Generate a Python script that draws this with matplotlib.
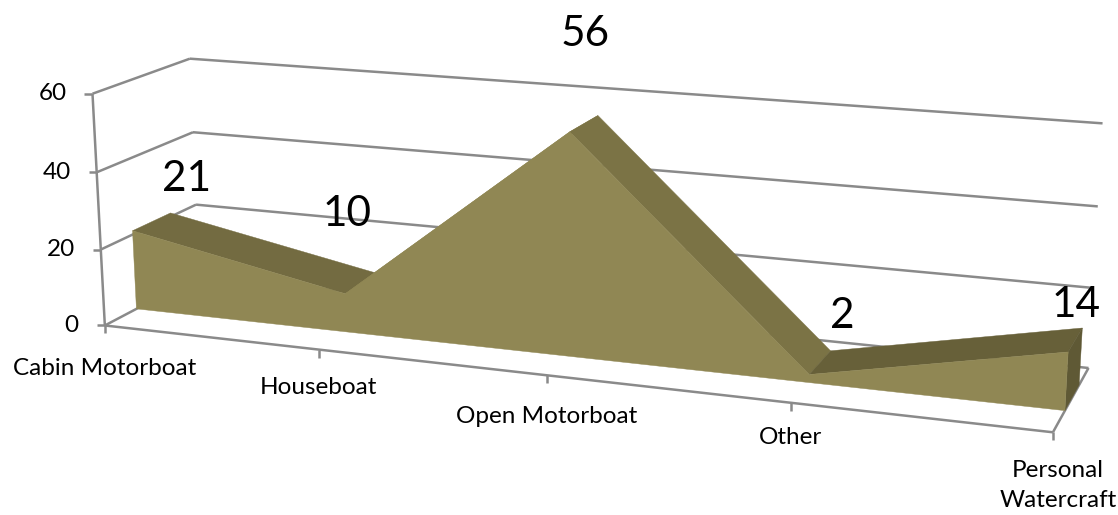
import numpy as np
import matplotlib
matplotlib.use('Agg')
import matplotlib.pyplot as plt

categories = ['Cabin Motorboat', 'Houseboat', 'Open Motorboat', 'Other', 'Personal\nWatercraft']
values = [21, 10, 56, 2, 14]
y_ticks = [0, 20, 40, 60]

# depth of the area inside the floor (0 = front edge, 1 = back wall)
z_front = 0.32
z_back = 0.72

# frame corners on the picture, used only to work out the camera of the 3D chart
# category index, value, depth -> pixel
frame = [
    (0, 60, 0, 93, 93), (0, 40, 0, 97, 170), (0, 20, 0, 102, 246), (0, 0, 0, 105, 322),
    (0, 60, 1, 189, 61), (0, 40, 1, 192, 133), (0, 20, 1, 196, 204), (0, 0, 1, 200, 275),
    (4, 60, 1, 1103, 124), (4, 40, 1, 1098, 207), (4, 20, 1, 1093, 287), (4, 0, 1, 1089, 366),
    (1, 0, 0, 318, 356), (2, 0, 0, 546, 382), (3, 0, 0, 790, 405), (4, 0, 0, 1053, 427),
]

GREY = '#8a8a8a'
FRONT = '#908754'
TOPS = ['#736b41', FRONT, '#7b7345', '#676039']
SIDE = '#5f5935'

rows = []
for cx, cy, cz, u, v in frame:
    p = [cx / 4, cy / 60, cz, 1]
    rows.append(p + [0, 0, 0, 0] + [-u * a for a in p])
    rows.append([0, 0, 0, 0] + p + [-v * a for a in p])
cam = np.linalg.svd(np.array(rows, dtype=float))[2][-1].reshape(3, 4)


def project(cx, cy, cz):
    '''
    Категория, значение, глубина -> точка на рисунке
    '''
    u, v, w = cam @ np.array([cx / 4, cy / 60, cz, 1])
    return u / w, v / w


fig = plt.figure(figsize=(11.18, 5.15), dpi=100)
ax = fig.add_axes([0, 0, 1, 1])
ax.set_xlim(0, 1118)
ax.set_ylim(515, 0)
ax.axis('off')
plt.rcParams['font.family'] = ['Lato', 'DejaVu Sans']


def line(a, b, lw=1.8):
    ax.plot([a[0], b[0]], [a[1], b[1]], color=GREY, lw=lw, solid_capstyle='butt', zorder=1)


# walls and floor
line(project(0, 60, 0), project(0, 0, 0))
for t in y_ticks:
    front = project(0, t, 0)
    back = project(0, t, 1)
    line(front, back)
    line(back, project(4, t, 1))
    line((front[0] - 8, front[1]), front)
    ax.text(front[0] - 26, front[1], str(t), ha='right', va='center', fontsize=17.5, color='black')
line(project(0, 0, 0), project(4, 0, 0))
line(project(4, 0, 0), project(4, 0, 1))

label_drop = [43, 38, 41, 35, 53]
label_side = [0, 0, 0, 0, 5]
for i, name in enumerate(categories):
    px, py = project(i, 0, 0)
    line((px, py), (px, py + 8))
    ax.text(px + label_side[i], py + label_drop[i], name, ha='center', va='center',
            fontsize=17.5, color='black', linespacing=1.55)

# top faces between categories, then front and right side
for i in range(len(values) - 1):
    quad = [project(i, values[i], z_front), project(i + 1, values[i + 1], z_front),
            project(i + 1, values[i + 1], z_back), project(i, values[i], z_back)]
    ax.fill(*zip(*quad), color=TOPS[i], lw=0.3, zorder=2)

last = len(values) - 1
side = [project(last, 0, z_front), project(last, values[last], z_front),
        project(last, values[last], z_back), project(last, 0, z_back)]
ax.fill(*zip(*side), color=SIDE, lw=0.3, zorder=2)

outline = [project(0, 0, z_front)]
outline += [project(i, values[i], z_front) for i in range(len(values))]
outline += [project(last, 0, z_front)]
ax.fill(*zip(*outline), color=FRONT, lw=0.3, zorder=3)

# value labels float above the peaks
label_shift = [(16, -34), (-31, -60), (-13, -82), (12, -35), (-6, -23)]
for i, v in enumerate(values):
    px, py = project(i, v, z_back)
    ax.text(px + label_shift[i][0], py + label_shift[i][1], str(v), ha='center', va='center',
            fontsize=30.5, color='black', zorder=4)

fig.savefig('out.png', dpi=100)
